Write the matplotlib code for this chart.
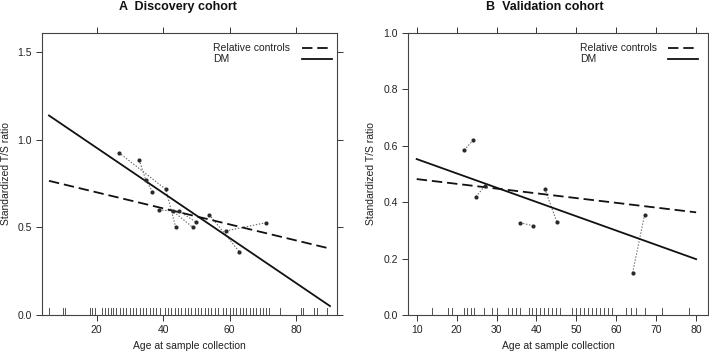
import matplotlib
matplotlib.use("Agg")
import matplotlib.pyplot as plt
import matplotlib.transforms as mtransforms
import numpy as np

plt.rcParams['font.family'] = ['Liberation Sans', 'DejaVu Sans']
plt.rcParams['lines.scale_dashes'] = False

# ---------------- Data ----------------
# Panel A: Discovery cohort
a_age = [26.7, 32.8, 34.8, 36.8, 40.8, 38.8, 42.9, 44.8, 43.8, 48.9, 49.9, 53.9, 58.9, 62.9, 70.9]
a_tsr = [0.927, 0.886, 0.771, 0.705, 0.718, 0.600, 0.594, 0.594, 0.501, 0.501, 0.530, 0.573, 0.480, 0.362, 0.527]
a_fam = [1, 2, 2, 2, 1, 3, 3, 4, 1, 3, 4, 5, 6, 5, 6]
a_fit_age = [5.7, 90.2]
a_fit_dm = [1.139, 0.051]
a_fit_ctrl = [0.766, 0.379]
a_rug = [5.6, 9.8, 10.6, 17.9, 18.6, 19.6, 21.6, 22.4, 23.3, 24.2, 25, 26, 27, 28, 29, 30,
         31, 32, 33, 34, 35, 36, 37, 38, 39, 40.5, 41.5, 42.5, 43.5, 44.5, 45.5, 46.5,
         47.5, 48.5, 49.5, 50.5, 51.5, 52.5, 53.5, 54.5, 55.5, 56.5, 58, 59, 60, 61, 62,
         63, 64, 65, 66, 67, 68, 69, 70, 71, 72, 75.1, 81.4, 82.1, 85.3, 86.2, 89.2]

# Panel B: Validation cohort
b_age = [21.9, 24.1, 24.9, 27.1, 35.9, 39.1, 42.1, 45.1, 64.1, 67.1]
b_tsr = [0.585, 0.619, 0.419, 0.459, 0.327, 0.317, 0.448, 0.330, 0.150, 0.356]
b_fam = [1, 1, 2, 2, 3, 3, 4, 4, 5, 5]
b_fit_age = [10, 80]
b_fit_dm = [0.553, 0.198]
b_fit_ctrl = [0.482, 0.364]
b_rug = [13.8, 17.8, 18.8, 21.8, 22.6, 23.5, 24.4, 26.9, 28.9, 30, 32.8, 33.9, 35, 36,
         38.1, 39, 40, 41, 42, 43, 44, 45, 46, 48.9, 50, 51, 52, 53, 54, 55, 56, 57,
         58, 59, 62.4, 63.8, 65, 67.1, 71.4, 78.1]

a_xticks = [20, 40, 60, 80]
a_yticks = [0.0, 0.5, 1.0, 1.5]
b_xticks = [10, 20, 30, 40, 50, 60, 70, 80]
b_yticks = [0.0, 0.2, 0.4, 0.6, 0.8, 1.0]

legend_labels = ["Relative controls", "DM"]

FS = 7.5
W, H = 709, 353
fig = plt.figure(figsize=(W / 100, H / 100), dpi=100)

def px_axes(l, r, t, b):
    return fig.add_axes([l / W, (H - b) / H, (r - l) / W, (b - t) / H])

axA = px_axes(42, 337, 33, 315)
axB = px_axes(408.3, 707.7, 33, 315)

def draw(ax, age, tsr, fam, fit_age, fit_dm, fit_ctrl, rug, xlim, ylim, xticks, yticks,
         leg_text_x, leg_line_x):
    age = np.asarray(age); tsr = np.asarray(tsr); fam = np.asarray(fam)
    for f in np.unique(fam):
        m = fam == f
        order = np.argsort(age[m])
        ax.plot(age[m][order], tsr[m][order], linestyle=(0, (1, 1.2)), color='#6a6a6a',
                lw=0.8, zorder=2)
    ax.plot(age, tsr, 'o', color='#2a2a2a', ms=3, mec='none', zorder=4)
    ax.plot(fit_age, fit_ctrl, color='#111111', lw=1.3, dashes=(7.5, 3.5), zorder=3)
    ax.plot(fit_age, fit_dm, color='#111111', lw=1.3, zorder=3)
    trans = mtransforms.blended_transform_factory(ax.transData, ax.transAxes)
    for r in rug:
        ax.plot([r, r], [0.0, 0.024], transform=trans, color='#333333', lw=0.6, zorder=2)
    ax.set_xlim(*xlim)
    ax.set_ylim(*ylim)
    ax.set_xticks(xticks)
    ax.set_yticks(yticks)
    ax.set_xticklabels([str(v) for v in xticks])
    ax.set_yticklabels([f"{v:.1f}" for v in yticks])
    ax.tick_params(direction='out', length=4, width=0.7, labelsize=FS, colors='#333333',
                   labelcolor='#222222', top=True, right=True, pad=3.5)
    for s in ax.spines.values():
        s.set_linewidth(0.8)
        s.set_color('#444444')
    ax.set_xlabel("Age at sample collection", fontsize=FS, color='#222222', labelpad=4)
    # Legend
    ys = [0.947, 0.908]
    styles = [dict(dashes=(7.5, 3.5)), dict()]
    for lab, y, st in zip(legend_labels, ys, styles):
        ax.text(leg_text_x, y, lab, transform=ax.transAxes, fontsize=FS, va='center',
                ha='left', color='#222222')
        ax.plot(leg_line_x, [y, y], transform=ax.transAxes, color='#111111', lw=1.3, **st)

draw(axA, a_age, a_tsr, a_fam, a_fit_age, a_fit_dm, a_fit_ctrl, a_rug,
     (3.6, 92.3), (0, 1.61), a_xticks, a_yticks, 0.580, [0.881, 0.983])
draw(axB, b_age, b_tsr, b_fam, b_fit_age, b_fit_dm, b_fit_ctrl, b_rug,
     (7.9, 82.9), (0, 1.0), b_xticks, b_yticks, 0.573, [0.867, 0.968])

fig.text(178 / W, 1 - 7 / H, "A  Discovery cohort", fontsize=9, fontweight='bold',
         ha='center', va='center', color='#111111')
fig.text(545 / W, 1 - 7 / H, "B  Validation cohort", fontsize=9, fontweight='bold',
         ha='center', va='center', color='#111111')
fig.text(6 / W, 1 - 174 / H, "Standardized T/S ratio", rotation=90, fontsize=FS,
         ha='center', va='center', color='#222222')
fig.text(371 / W, 1 - 174 / H, "Standardized T/S ratio", rotation=90, fontsize=FS,
         ha='center', va='center', color='#222222')

fig.savefig("out.png", dpi=100)
